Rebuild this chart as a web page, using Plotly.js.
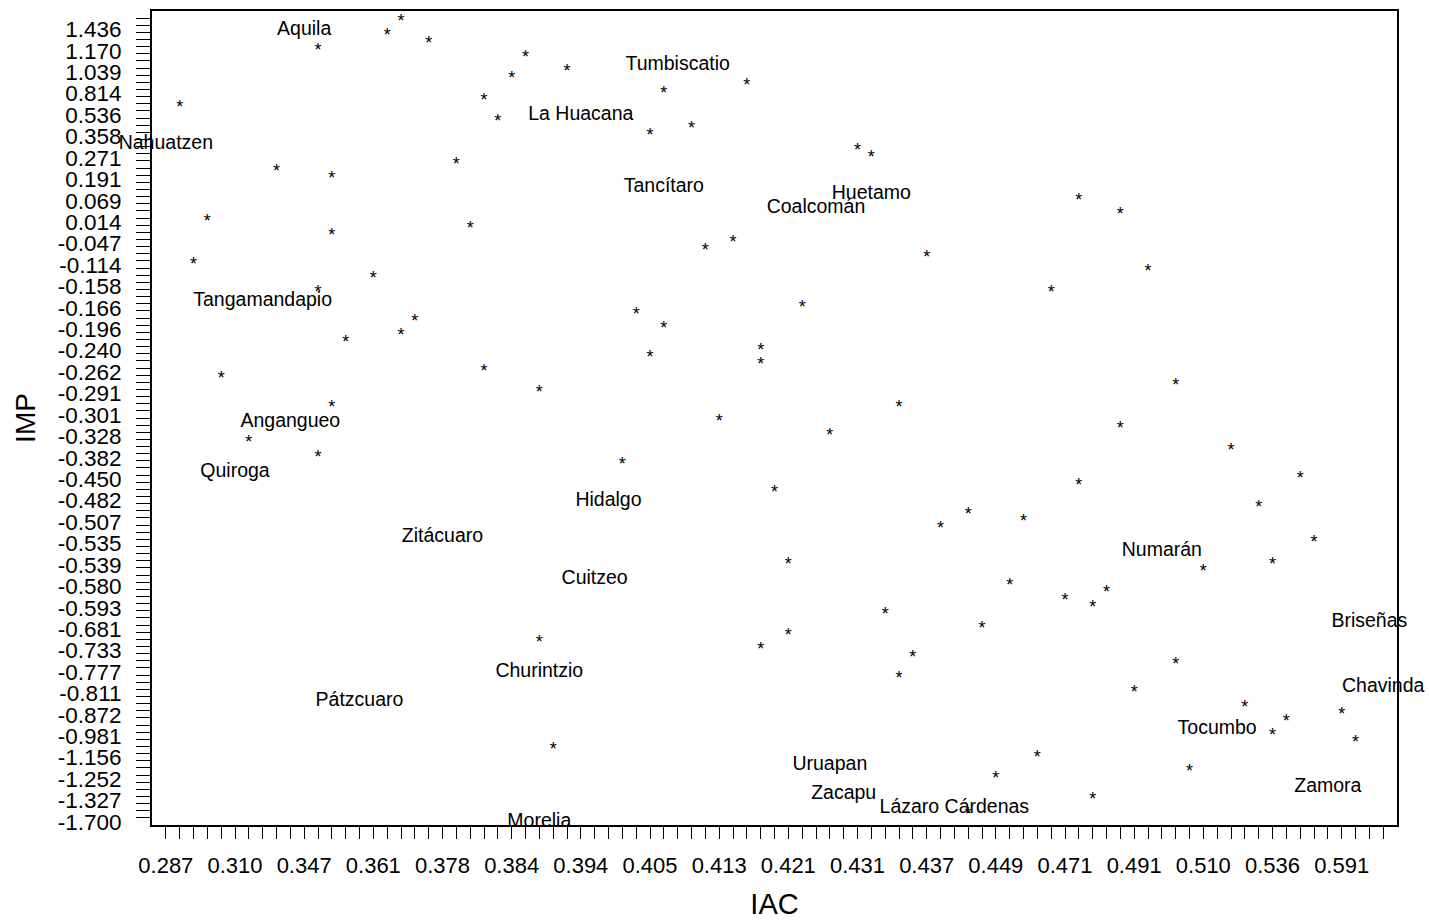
<!DOCTYPE html>
<html>
<head>
<meta charset="utf-8">
<script src="https://cdn.plot.ly/plotly-3.0.1.min.js"></script>
<style>html,body{margin:0;padding:0;background:#fff;}</style>
</head>
<body>
<div id="chart" style="width:1429px;height:922px;"></div>
<script>
// IAC tick labels: one label every 5th ordinal position of the x axis (positions 0..88)
const iacTickLabels = ["0.287","0.310","0.347","0.361","0.378","0.384","0.394","0.405","0.413",
  "0.421","0.431","0.437","0.449","0.471","0.491","0.510","0.536","0.591"];
// IMP tick labels: one label every 3rd ordinal position of the y axis (positions 0..112), bottom to top
const impTickLabels = ["-1.700","-1.327","-1.252","-1.156","-0.981","-0.872","-0.811","-0.777",
  "-0.733","-0.681","-0.593","-0.580","-0.539","-0.535","-0.507","-0.482","-0.450","-0.382",
  "-0.328","-0.301","-0.291","-0.262","-0.240","-0.196","-0.166","-0.158","-0.114","-0.047",
  "0.014","0.069","0.191","0.271","0.358","0.536","0.814","1.039","1.170","1.436"];

// Municipalities drawn with their name (ordinal position on IAC axis, on IMP axis)
const namedMunicipios = ["Aquila","Tumbiscatio","La Huacana","Nahuatzen","Tancítaro","Huetamo",
  "Coalcomán","Tangamandapio","Angangueo","Quiroga","Hidalgo","Zitácuaro","Numarán","Cuitzeo",
  "Briseñas","Churintzio","Chavinda","Pátzcuaro","Tocumbo","Uruapan","Zamora","Zacapu",
  "Lázaro Cárdenas","Morelia"];
const namedIacPos = [10,37,30,0,36,51,47,7,9,5,32,20,72,31,87,27,88,14,76,48,84,49,57,27];
const namedImpPos = [111,106,99,95,89,88,86,73,56,49,45,40,38,34,28,21,19,17,13,8,5,4,2,0];

// Remaining municipalities, drawn as "*"
const starIacPos = [17,16,19,11,26,29,25,42,36,23,1,24,38,35,50,21,51,8,12,66,69,3,22,12,41,39,55,2,71,15,
  11,64,46,34,18,36,17,13,43,35,43,23,4,73,27,53,12,40,69,48,6,77,11,33,82,66,44,79,58,62,
  56,83,45,80,75,61,68,65,67,52,59,45,27,43,54,73,53,70,78,85,81,80,86,28,63,74,60,67,58];
const starImpPos = [112,110,109,108,107,105,104,103,102,101,100,98,97,96,94,92,93,91,90,87,85,84,83,82,81,80,79,78,77,76,
  74,74,72,71,70,69,68,67,66,65,64,63,62,61,60,58,58,56,55,54,53,52,51,50,48,47,46,44,43,42,
  41,39,36,36,35,33,32,31,30,29,27,26,25,24,23,22,20,18,16,15,14,12,11,10,9,7,6,3,1];

const nX = 89, nY = 113;
const xTickVals = iacTickLabels.map((_, i) => i * 5);
const yTickVals = impTickLabels.map((_, i) => i * 3);
const xMinor = Array.from({length: nX}, (_, i) => i);
const yMinor = Array.from({length: nY}, (_, i) => i);

const FONT = '"Liberation Sans", Arial, Helvetica, sans-serif';
const TEXT_SHIFT = 0.63; // glyph baseline compensation (axis units)

const traces = [
  { // anchors the main x/y subplot so that both axes are drawn
    type: 'scatter', mode: 'markers', x: [], y: [], xaxis: 'x', yaxis: 'y', hoverinfo: 'skip'
  },
  {
    type: 'scatter', mode: 'text', x: starIacPos, y: starImpPos, yaxis: 'y2',
    text: starIacPos.map(() => '*'), textposition: 'middle center',
    textfont: {family: FONT, size: 18, color: '#000'}, hoverinfo: 'skip', cliponaxis: false
  },
  {
    type: 'scatter', mode: 'text', x: namedIacPos, y: namedImpPos, yaxis: 'y2',
    text: namedMunicipios, textposition: 'middle center',
    textfont: {family: FONT, size: 19.5, color: '#000'}, hoverinfo: 'skip', cliponaxis: false
  }
];

const layout = {
  width: 1429, height: 922,
  margin: {l: 152, r: 32, t: 11, b: 97, autoexpand: false},
  paper_bgcolor: '#fff', plot_bgcolor: '#fff', showlegend: false,
  font: {family: FONT, color: '#000'},
  xaxis: {
    range: [-1, nX], tickmode: 'array', tickvals: xTickVals, ticktext: iacTickLabels,
    ticks: 'outside', ticklen: 12, tickwidth: 1, tickcolor: '#000',
    tickfont: {family: FONT, size: 22, color: '#000'}, ticklabelstandoff: 8,
    minor: {tickmode: 'array', tickvals: xMinor, ticks: 'outside', ticklen: 12, tickwidth: 1, tickcolor: '#000', showgrid: false},
    showline: true, linecolor: '#000', linewidth: 2, mirror: true,
    showgrid: false, zeroline: false, automargin: false, fixedrange: true,
    title: {text: 'IAC', font: {family: FONT, size: 29, color: '#000'}, standoff: 16}
  },
  yaxis: {
    range: [-1, nY], tickmode: 'array', tickvals: yTickVals, ticktext: impTickLabels,
    ticks: 'outside', ticklen: 14, tickwidth: 1, tickcolor: '#000',
    tickfont: {family: FONT, size: 22.5, color: '#000'}, ticklabelstandoff: 10, ticklabelshift: 4,
    minor: {tickmode: 'array', tickvals: yMinor, ticks: 'outside', ticklen: 14, tickwidth: 1, tickcolor: '#000', showgrid: false},
    showline: true, linecolor: '#000', linewidth: 2, mirror: true,
    showgrid: false, zeroline: false, automargin: false, fixedrange: true,
    title: {text: 'IMP', font: {family: FONT, size: 28, color: '#000'}, standoff: 14}
  },
  yaxis2: {
    overlaying: 'y', anchor: 'x', range: [-1 + TEXT_SHIFT, nY + TEXT_SHIFT],
    visible: false, showgrid: false, zeroline: false, fixedrange: true
  }
};

Plotly.newPlot('chart', traces, layout, {staticPlot: true, displayModeBar: false});
</script>
</body>
</html>
